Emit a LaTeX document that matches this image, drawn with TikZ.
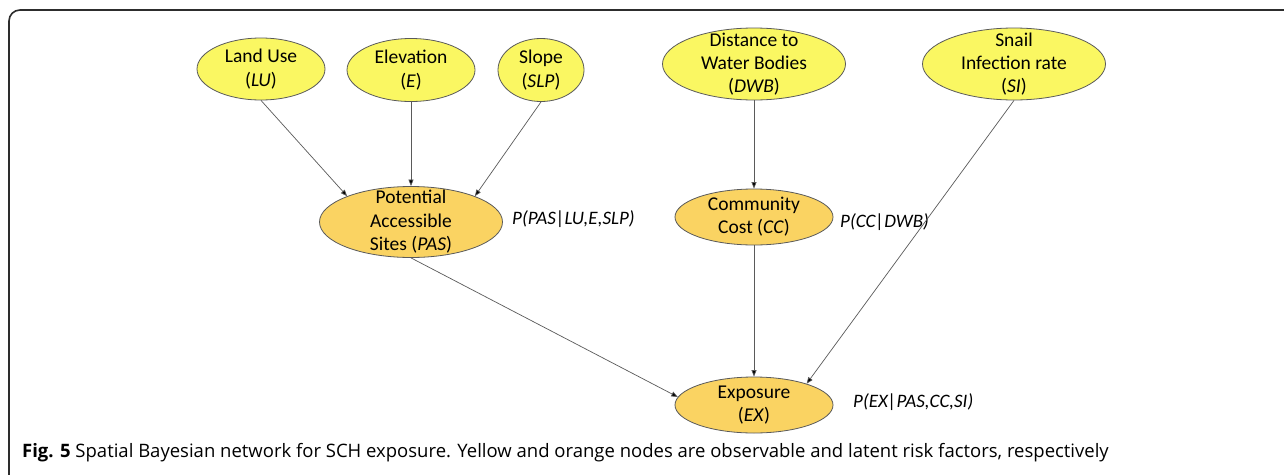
\documentclass[tikz,border=0pt]{standalone}
\usepackage{fontspec}
\setmainfont{Carlito}
\newfontfamily\capfont{Open Sans}
\usetikzlibrary{shapes.geometric,arrows.meta}
\definecolor{obsyellow}{RGB}{250,247,98}
\definecolor{latorange}{RGB}{250,211,98}
\definecolor{edgegray}{RGB}{90,90,90}
\definecolor{framegray}{RGB}{45,45,45}
\tikzset{
  ell/.style={ellipse, draw=edgegray, line width=0.8pt, inner sep=0pt},
  obs/.style={ell, fill=obsyellow},
  lat/.style={ell, fill=latorange},
  txt/.style={align=center, inner sep=0pt, font=\fontsize{19.5}{23.5}\selectfont},
  cpt/.style={anchor=west, inner sep=0pt, font=\fontsize{19}{23}\selectfont\itshape},
  conn/.style={draw=edgegray, line width=0.7pt, -{Triangle[length=6.5pt,width=5pt,fill=black]}}
}
\begin{document}
\begin{tikzpicture}[x=1pt,y=-1pt]
\useasboundingbox (0,0) rectangle (1284,474);
\fill[white] (0,0) rectangle (1284,474);
% frame
\draw[framegray, line width=1.6pt, rounded corners=11pt] (9,490) -- (9,10) -- (1300,10);

% observable nodes
\node[obs, minimum width=128pt, minimum height=62pt] (LU) at (261,69) {};
\node[txt] at (LU) {Land Use\\(\textit{LU})};
\node[obs, minimum width=128pt, minimum height=63pt] (E) at (411,70) {};
\node[txt] at (E) {Elevation\\(\textit{E})};
\node[obs, minimum width=86pt, minimum height=63pt] (SLP) at (541,70) {};
\node[txt] at (SLP) {Slope\\(\textit{SLP})};
\node[obs, minimum width=183pt, minimum height=72pt] (DWB) at (754,64) {};
\node[txt, font=\fontsize{19.5}{23}\selectfont] at (DWB) {Distance to\\Water Bodies\\(\textit{DWB})};
\node[obs, minimum width=183pt, minimum height=72pt] (SI) at (1014,64) {};
\node[txt, font=\fontsize{19.5}{23}\selectfont] at (SI) {Snail\\Infection rate\\(\textit{SI})};

% latent nodes
\node[lat, minimum width=183pt, minimum height=71pt] (PAS) at (411,222) {};
\node[txt] at (PAS) {Potential\\Accessible\\Sites (\textit{PAS})};
\node[lat, minimum width=158pt, minimum height=56pt] (CC) at (754,217) {};
\node[txt, font=\fontsize{19.5}{23}\selectfont] at (CC) {Community\\Cost (\textit{CC})};
\node[lat, minimum width=158pt, minimum height=56pt] (EX) at (754,405) {};
\node[txt, font=\fontsize{19.5}{23}\selectfont] at (EX) {Exposure\\(\textit{EX})};

% conditional probability labels
\node[cpt] (lPAS) at (512,219) {P(PAS|LU,E,SLP)};
\node[cpt] (lCC) at (840,222) {P(CC|DWB)};
\node[cpt] (lEX) at (853,402) {P(EX|PAS,CC,SI)};

% connectors
\draw[conn] (LU.south) -- (PAS.158);
\draw[conn] (E.south) -- (PAS.north);
\draw[conn] (SLP.south) -- (PAS.22);
\draw[conn] (DWB.south) -- (CC.north);
\draw[conn] (CC.south) -- (EX.north);
\draw[conn] (PAS.south) -- (EX.174);
\draw[conn] (SI.south) -- (EX.22);

% caption
\node[anchor=west, inner sep=0pt, font=\capfont\fontsize{18.5}{22}\selectfont] (cap) at (22,453)
  {\textbf{Fig. 5} Spatial Bayesian network for SCH exposure. Yellow and orange nodes are observable and latent risk factors, respectively};
\end{tikzpicture}
\end{document}
